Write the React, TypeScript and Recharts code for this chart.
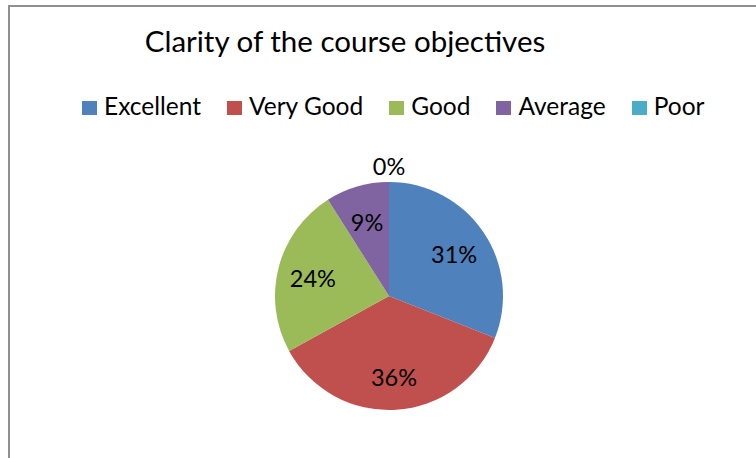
import { PieChart, Pie, Cell, Legend } from 'recharts';

const categories = ['Excellent', 'Very Good', 'Good', 'Average', 'Poor'];
const shares = [31, 36, 24, 9, 0];
const colors = ['#4F81BD', '#C0504D', '#9BBB59', '#8064A2', '#4BACC6'];
const title = 'Clarity of the course objectives';

const data = categories.map((name, i) => ({ name, value: shares[i] }));

const FONT = 'Lato, "Open Sans", sans-serif';
const RAD = Math.PI / 180;

function renderLabel(props: any) {
  const { cx, cy, midAngle, outerRadius, percent, value } = props;
  const r = value === 0 ? outerRadius + 18 : outerRadius * 0.69;
  const x = cx + r * Math.cos(-midAngle * RAD);
  const y = cy + r * Math.sin(-midAngle * RAD) + 2;
  return (
    <text
      x={x}
      y={y}
      fill="#000"
      textAnchor="middle"
      dominantBaseline="central"
      fontFamily={FONT}
      fontSize={23.5}
    >
      {`${Math.round(percent * 100)}%`}
    </text>
  );
}

function LegendRow() {
  return (
    <div
      style={{
        display: 'flex',
        alignItems: 'flex-start',
        fontFamily: FONT,
        fontSize: 24.5,
        lineHeight: '24.5px',
        color: '#000',
      }}
    >
      {categories.map((c, i) => (
        <div key={c} style={{ display: 'flex', alignItems: 'flex-start', marginRight: 26 }}>
          <div style={{ width: 15, height: 14, marginTop: 7, background: colors[i], marginRight: 7 }} />
          <span style={{ whiteSpace: 'nowrap' }}>{c}</span>
        </div>
      ))}
    </div>
  );
}

export default function App() {
  return (
    <div style={{ position: 'fixed', left: 0, top: 0, width: 756, height: 458, overflow: 'hidden', background: '#fff' }}>
      {/* chart frame: only the left and top edges fall inside the window */}
      <svg width={756} height={458} style={{ position: 'absolute', left: 0, top: 0 }}>
        <polyline points="9,458 9,6 756,6" fill="none" stroke="#8f8f8f" strokeWidth={2} />
      </svg>
      <div style={{ position: 'absolute', left: 10, top: 7, width: 746, height: 451 }}>
        <svg width={746} height={60} style={{ position: 'absolute', left: 0, top: 0 }}>
          <text x={335} y={45.3} textAnchor="middle" fontFamily={FONT} fontSize={29.5} fill="#000">
            {title}
          </text>
        </svg>
        <PieChart
          width={746}
          height={451}
          margin={{ top: 0, right: 0, bottom: 0, left: 0 }}
          style={{ position: 'absolute', left: 0, top: 0 }}
        >
          <Legend
            content={<LegendRow />}
            wrapperStyle={{ top: 87, left: 72, width: 'auto' }}
          />
          <Pie
            data={data}
            dataKey="value"
            nameKey="name"
            cx={379}
            cy={289}
            outerRadius={114}
            startAngle={90}
            endAngle={-270}
            stroke="none"
            labelLine={false}
            label={renderLabel}
            isAnimationActive={false}
          >
            {data.map((d, i) => (
              <Cell key={d.name} fill={colors[i]} />
            ))}
          </Pie>
        </PieChart>
      </div>
    </div>
  );
}
